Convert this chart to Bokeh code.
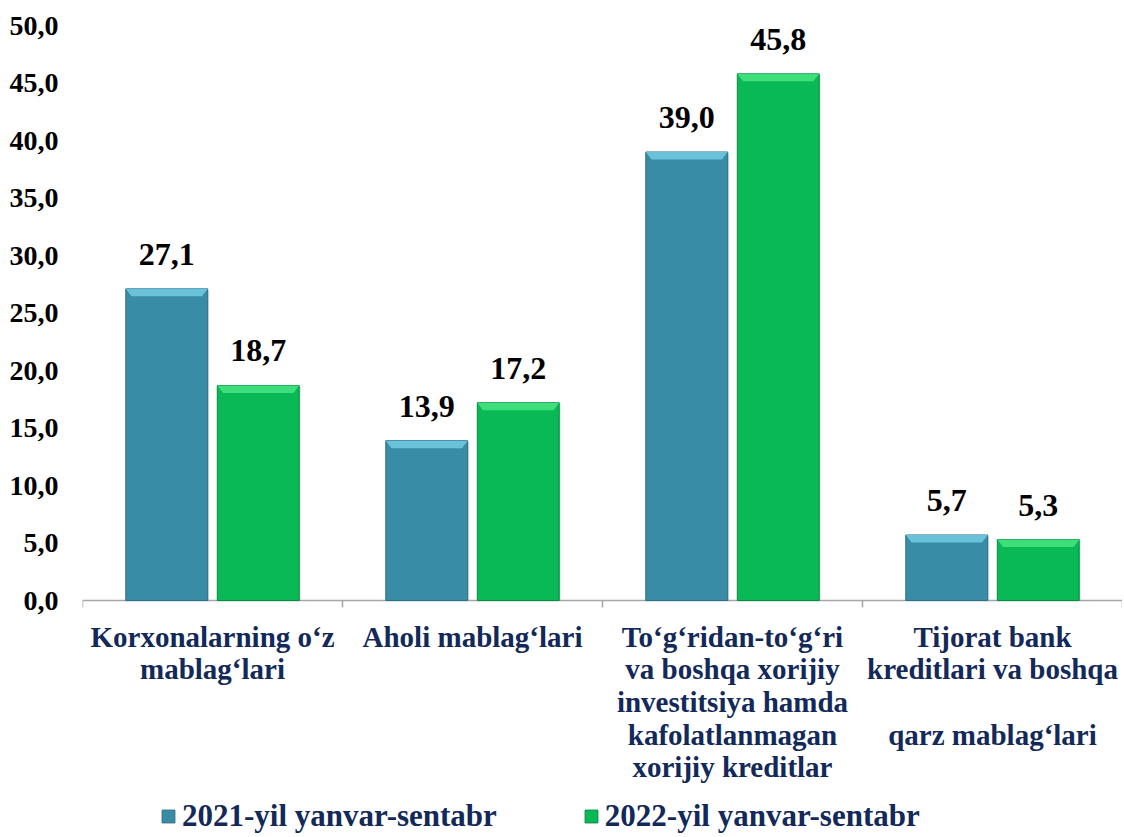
from bokeh.plotting import figure
from bokeh.models import Range1d, FixedTicker, Legend, LegendItem
from bokeh.core.properties import value
from bokeh.embed import file_html
from bokeh.resources import INLINE

categories = [
    "Korxonalarning o‘z\nmablag‘lari",
    "Aholi mablag‘lari",
    "To‘g‘ridan-to‘g‘ri\nva boshqa xorijiy\ninvestitsiya hamda\nkafolatlanmagan\nxorijiy kreditlar",
    "Tijorat bank\nkreditlari va boshqa\n\nqarz mablag‘lari",
]
series_names = ["2021-yil yanvar-sentabr", "2022-yil yanvar-sentabr"]
v2021 = [27.1, 13.9, 39.0, 5.7]
v2022 = [18.7, 17.2, 45.8, 5.3]
y_ticks = [0, 5, 10, 15, 20, 25, 30, 35, 40, 45, 50]
y_tick_labels = ["0,0", "5,0", "10,0", "15,0", "20,0", "25,0", "30,0", "35,0", "40,0", "45,0", "50,0"]

FONT = "Liberation Serif"
BLUE, BLUE_L, BLUE_D = "#388ca5", "#6fc8e0", "#2a6f84"
GREEN, GREEN_L, GREEN_D = "#08b955", "#45e27f", "#068a40"
NAVY = "#12295a"

n = len(categories)
p = figure(width=1122, height=835, output_backend="svg", toolbar_location=None,
           x_range=Range1d(0, n), y_range=Range1d(-20.43, 50),
           x_axis_location=None, min_border_left=82, min_border_right=0,
           min_border_top=25, min_border_bottom=0)
p.outline_line_color = None
p.xgrid.visible = False
p.ygrid.visible = False
p.background_fill_color = "white"

yax = p.yaxis[0]
yax.ticker = FixedTicker(ticks=y_ticks)
yax.major_label_overrides = {t: l for t, l in zip(y_ticks, y_tick_labels)}
yax.axis_line_color = None
yax.major_tick_line_color = None
yax.minor_tick_line_color = None
yax.major_tick_out = 0
yax.major_tick_in = 0
yax.major_label_text_font = FONT
yax.major_label_text_font_style = "bold"
yax.major_label_text_font_size = "28px"
yax.major_label_text_color = "black"
yax.major_label_standoff = 24

bw = 0.315
off = 0.176
centers = [i + 0.5 for i in range(n)]
x1 = [c - off for c in centers]
x2 = [c + off for c in centers]

# baseline and category boundary ticks
bounds = list(range(n + 1))
p.segment(x0=[0], y0=[0], x1=[n], y1=[0], line_color="#a6a6a6", line_width=1.5)
p.segment(x0=bounds, y0=[0] * len(bounds), x1=bounds, y1=[-0.6] * len(bounds),
          line_color="#a6a6a6", line_width=1.5)

# shadows
for xs, vals in ((x1, v2021), (x2, v2022)):
    p.vbar(x=[x + 0.006 for x in xs], top=[v - 0.15 for v in vals], bottom=0, width=bw,
           fill_color="#000000", fill_alpha=0.12, line_color=None)

r1 = p.vbar(x=x1, top=v2021, bottom=0, width=bw, fill_color=BLUE, line_color=BLUE_D, line_width=1)
r2 = p.vbar(x=x2, top=v2022, bottom=0, width=bw, fill_color=GREEN, line_color=GREEN_D, line_width=1)

# bevel top bands
h = 0.65
d = 0.022
for xs, vals, col in ((x1, v2021, BLUE_L), (x2, v2022, GREEN_L)):
    pxs, pys = [], []
    for x, v in zip(xs, vals):
        l, r = x - bw / 2, x + bw / 2
        pxs.append([l, r, r - d, l + d])
        pys.append([v, v, v - h, v - h])
    p.patches(pxs, pys, fill_color=col, line_color=None, fill_alpha=0.9)

# value labels
gap = 3.0
for xs, vals in ((x1, v2021), (x2, v2022)):
    p.text(x=xs, y=[v + gap for v in vals],
           text=[f"{v:.1f}".replace(".", ",") for v in vals],
           text_font=value(FONT), text_font_style="bold", text_font_size="32px",
           text_color="black", text_align="center", text_baseline="alphabetic")

# category labels
p.text(x=centers, y=[-1.75] * n, text=categories,
       text_font=value(FONT), text_font_style="bold", text_font_size="29px",
       text_color=NAVY, text_align="center", text_baseline="top", text_line_height=1.02)

legend = Legend(items=[LegendItem(label=series_names[0], renderers=[r1]),
                       LegendItem(label=series_names[1], renderers=[r2])],
                orientation="horizontal", location=(78, 1))
legend.border_line_color = None
legend.background_fill_alpha = 0
legend.padding = 0
legend.margin = 0
legend.spacing = 86
legend.glyph_width = 16
legend.glyph_height = 16
legend.label_standoff = 6
legend.label_text_font = FONT
legend.label_text_font_style = "bold"
legend.label_text_font_size = "31px"
legend.label_text_color = NAVY
p.add_layout(legend)

open("out.html", "w").write(file_html(p, INLINE))
